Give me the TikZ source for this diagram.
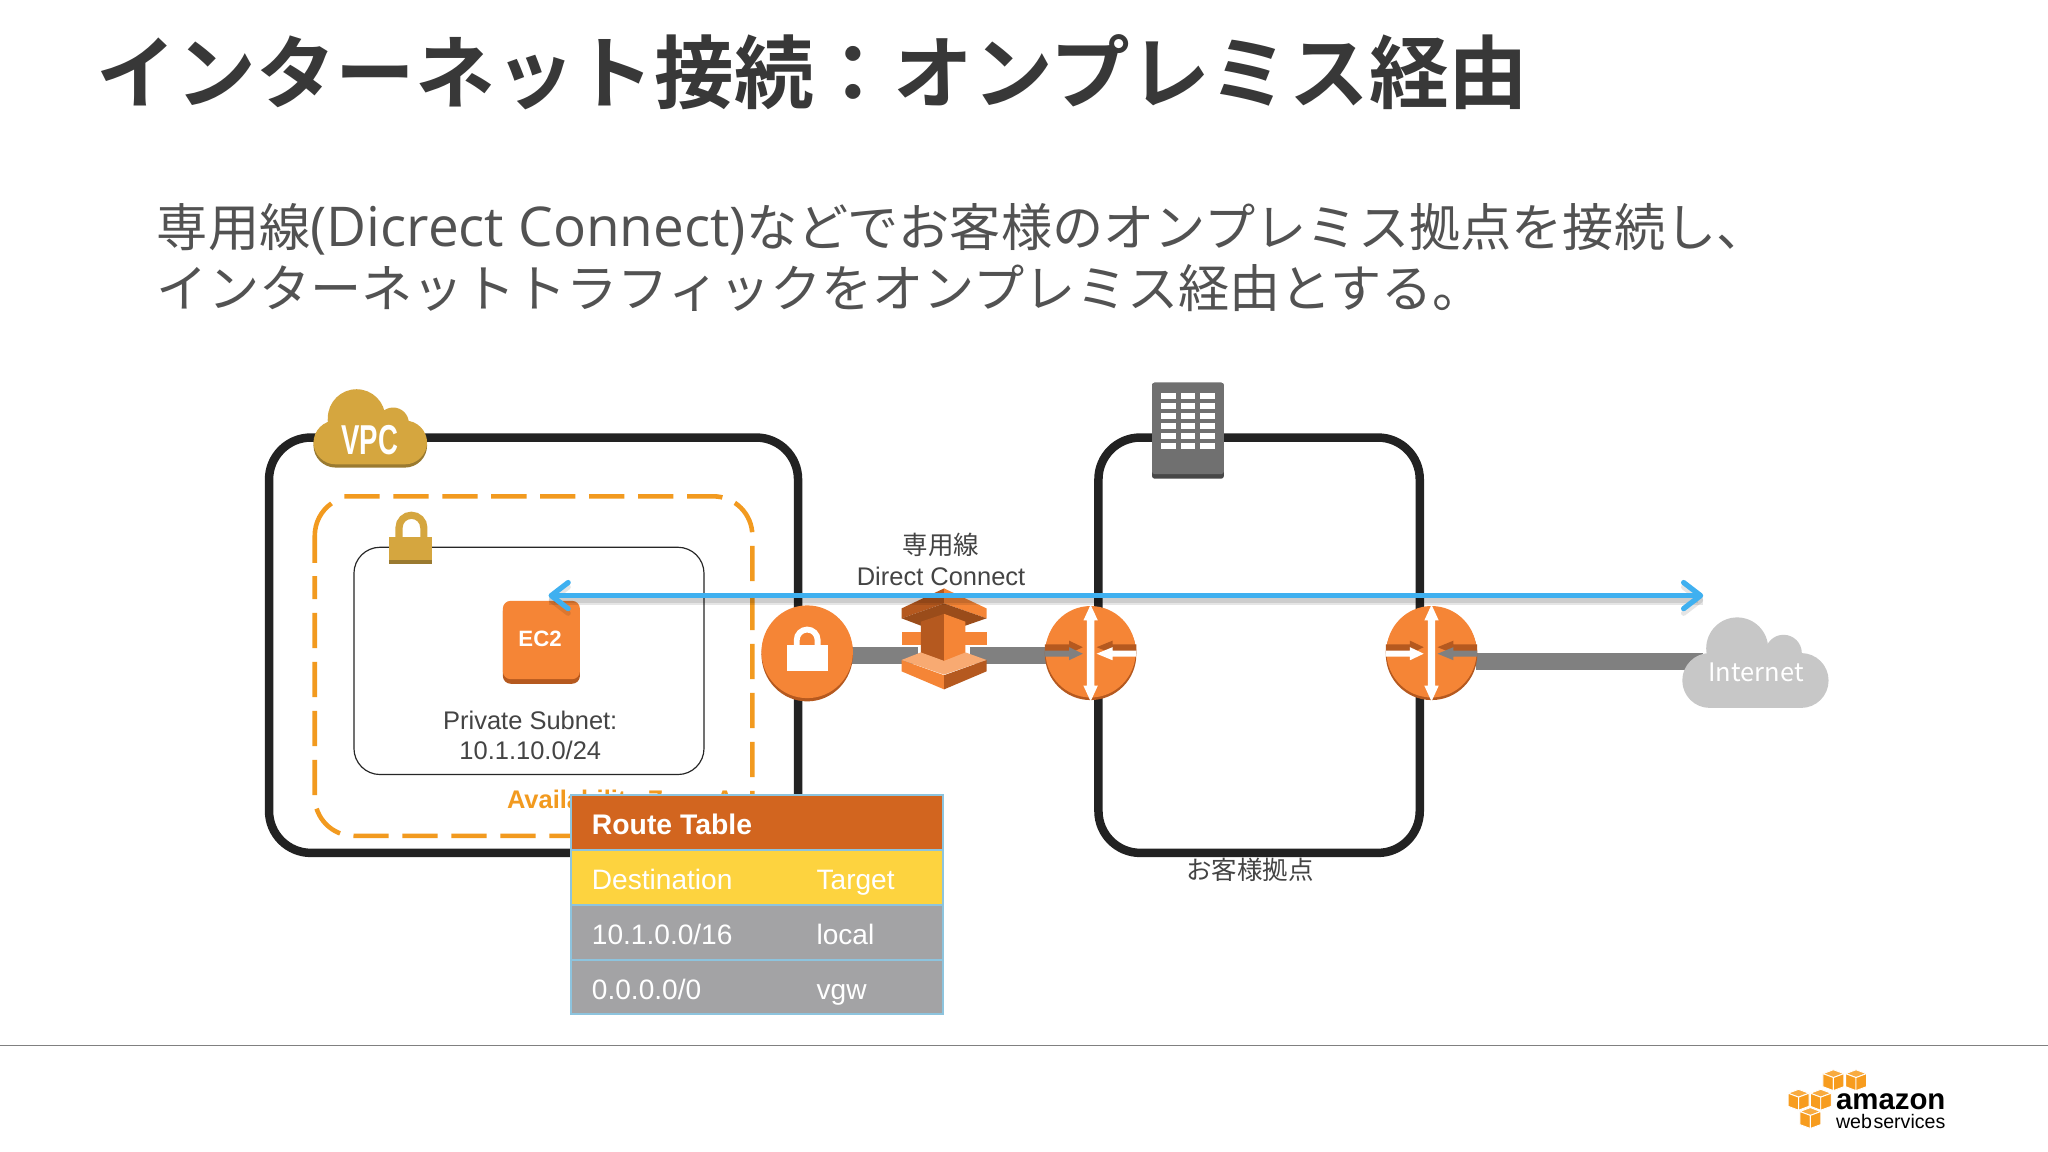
\documentclass[tikz,border=0pt]{standalone}
\usepackage{fontspec}
\setmainfont{Liberation Sans}
\newfontfamily\jp{Noto Sans CJK JP}[BoldFont={Noto Sans CJK JP Bold}]
\newfontfamily\lat{Open Sans}
\usetikzlibrary{arrows.meta,shapes.geometric}
\definecolor{awsorange}{HTML}{F58536}
\definecolor{awsdark}{HTML}{B5591F}
\definecolor{gold}{HTML}{D5A63F}
\definecolor{golddark}{HTML}{9A7A30}
\definecolor{zoneorange}{HTML}{F29A1F}
\definecolor{boxblack}{HTML}{222222}
\definecolor{txt}{HTML}{444444}
\definecolor{barGray}{HTML}{808080}
\definecolor{blueline}{HTML}{3FB0F0}
\definecolor{logoorange}{HTML}{F79C1E}
\definecolor{rtborder}{HTML}{8DC4DE}
\definecolor{rthead}{HTML}{D2651F}
\definecolor{rtyellow}{HTML}{FDD33F}
\definecolor{rtgray}{HTML}{A3A3A5}
\tikzset{
  box/.style={draw=boxblack,line width=6.5pt,rounded corners=32pt,minimum width=#1,minimum height=318pt,inner sep=0pt,outer sep=0pt},
  icon/.style={inner sep=0pt,outer sep=0pt,minimum height=20pt,minimum width=#1},
  bar/.style={draw=barGray,line width=13pt},
  tips/.style={{Straight Barb[length=13pt,width=20pt,line width=4pt,round]}-{Straight Barb[length=13pt,width=20pt,line width=4pt,round]}},
  flow/.style={draw=blueline,line width=4pt,tips},
  flowshadow/.style={draw=black,line width=#1,opacity=.10},
  label/.style={font=\fontsize{19.5}{23}\selectfont,text=txt,inner sep=0pt,align=center},
  jplabel/.style={font=\jp\fontsize{19.5}{23}\selectfont,text=txt,inner sep=0pt},
  row/.style={fill=#1,inner sep=0pt,outer sep=0pt,minimum width=285pt,minimum height=42pt},
  cell/.style={anchor=base west,inner sep=0pt,text=white,font=\fontsize{21.5}{26}\selectfont},
}
\newcommand\awsrouter[3]{%
\begin{scope}[shift={(#1,0)}]
  \fill[awsdark] (0,501) ellipse [x radius=35pt,y radius=35pt];
  \fill[awsorange] (0,499) ellipse [x radius=34.5pt,y radius=35pt];
  \fill[awsdark] (-35,493.3)--(-16.5,493.3)--(-16.5,490.5)--(-6,495.5)--(-16.5,500.5)--(-35,500.5)--cycle;
  \fill[awsdark] (35,493.3)--(16.8,493.3)--(16.8,490.5)--(4.6,495.5)--(16.8,500.5)--(35,500.5)--cycle;
  \fill[#2] (-35,498.2)--(-16.5,498.2)--(-16.5,495.5)--(-6,500.5)--(-16.5,505.5)--(-16.5,502.8)--(-35,502.8)--cycle;
  \fill[#3] (35,498.2)--(16.8,498.2)--(16.8,495.5)--(4.6,500.5)--(16.8,505.5)--(16.8,502.8)--(35,502.8)--cycle;
  \fill[white] (0,463)--(5.5,475)--(2.8,475)--(2.8,525)--(5.5,525)--(0,537)--(-5.5,525)--(-2.8,525)--(-2.8,475)--(-5.5,475)--cycle;
\end{scope}}
\newcommand\awscube[2]{%
\begin{scope}[shift={(#1,#2)},draw=white,line width=.7pt,line join=round]
  \filldraw[fill=logoorange!85!white] (0,-8)--(8,-5)--(0,-2)--(-8,-5)--cycle;
  \filldraw[fill=logoorange] (-8,-5)--(0,-2)--(0,8)--(-8,5)--cycle;
  \filldraw[fill=logoorange] (8,-5)--(0,-2)--(0,8)--(8,5)--cycle;
\end{scope}}
\begin{document}
\begin{tikzpicture}[x=1pt,y=-1pt]
\useasboundingbox (0,0) rectangle (1568,882);
\fill[white] (0,0) rectangle (1568,882);

% texts at top
\node[anchor=west,inner sep=0pt,text=black!78,font=\jp\bfseries\fontsize{61}{70}\selectfont] (title) at (74,55) {インターネット接続：オンプレミス経由};
\node[anchor=north west,inner sep=0pt,text=black!68,align=left,font=\jp\fontsize{39.2}{47}\selectfont] (body) at (120,155.5) {専用線{\lat\fontsize{42}{47}\selectfont(Dicrect Connect)}などでお客様のオンプレミス拠点を接続し、\\インターネットトラフィックをオンプレミス経由とする。};

\coordinate (footL) at (0,800.5);
\coordinate (footR) at (1568,800.5);
\draw[black!50,line width=.8pt] (footL) -- (footR);

% containers
\node[box=405pt] (vpc) at (408.5,494) {};
\node[box=246pt] (site) at (964,494) {};
\draw[zoneorange,line width=3.5pt,rounded corners=30pt,dash pattern=on 27pt off 10.5pt] (263.6,380) -- (576,380) -- (576,640) -- (241,640) -- (241,441);
\draw[zoneorange,line width=3.5pt] (241,431) -- (241,410) arc[start angle=180,end angle=125,radius=30pt];
\node[draw=black!85,line width=.9pt,rounded corners=20pt,minimum width=268pt,minimum height=174pt,inner sep=0pt] (subnet) at (405,506) {};
\node[anchor=base west,inner sep=0pt,text=zoneorange,font=\bfseries\fontsize{19.5}{23}\selectfont] (zone) at (388,619) {Availability Zone A};
\node[label] (subnetlabel) at (406,563) {Private Subnet:\\[0pt]10.1.10.0/24};

% VPC cloud
\fill[golddark] (273,323) circle [radius=22pt] (301,328) circle [radius=12pt];
\fill[golddark,rounded corners=17pt] (240,324) rectangle (327,358);
\fill[gold] (273,320) circle [radius=22pt] (301,324) circle [radius=12pt];
\fill[gold,rounded corners=17pt] (240,322) rectangle (327,355.5);
\node[inner sep=0pt,text=white,font=\bfseries\fontsize{32}{33}\selectfont] (vpclabel) at (283,337) {\scalebox{.66}[1]{VPC}};

% subnet lock
\draw[gold,line width=5.5pt] (305.5,412) -- (305.5,404) arc[start angle=180,end angle=0,radius=9.5pt] -- (324.5,412);
\fill[golddark] (298,412) rectangle (331,432);
\fill[gold] (298,411) rectangle (331,428.5);

% EC2
\fill[awsdark,rounded corners=6pt] (385,462) rectangle (444,523.5);
\fill[awsorange,rounded corners=6pt] (385,460) rectangle (444,520);
\node[inner sep=0pt,text=white,font=\bfseries\fontsize{17}{20}\selectfont] (ec2) at (413.5,489) {EC2};

% icon anchors
\node[icon=68pt] (vgw) at (618,501.5) {};
\node[icon=40pt] (dc) at (722.8,501.5) {};
\node[icon=68pt] (r1) at (835,501.5) {};
\node[icon=68pt] (r2) at (1096,506.5) {};
\node[icon=80pt] (inet) at (1344,506.5) {};
\draw[bar] (vgw) -- (dc);
\draw[bar] (dc) -- (r1);
\draw[bar] (r2) -- (inet);

% VGW
\fill[awsdark] (618,501) ellipse [x radius=35pt,y radius=36pt];
\fill[awsorange] (618,499) ellipse [x radius=35pt,y radius=35.5pt];
\draw[white,line width=4.5pt] (610,496) -- (610,490) arc[start angle=180,end angle=0,radius=8pt] -- (626,496);
\fill[white] (602.5,494) rectangle (634,514);

% Direct Connect icon
\fill[awsdark] (722.8,450.5)--(690.3,465.8)--(690.3,473.4)--(722.8,462)--cycle;
\fill[awsorange] (722.8,450.5)--(755.3,465.8)--(755.3,473.4)--(722.8,462)--cycle;
\fill[awsdark!85!black] (690.3,473.4)--(722.8,462)--(755.3,473.4)--(739.2,479)--(722.8,473)--(705,479)--cycle;
\fill[awsorange] (690.3,483.6) rectangle (705,493.8);
\fill[awsorange] (739.2,483.6) rectangle (755.3,493.8);
\fill[awsdark] (705,476) -- (722.8,470) -- (722.8,507) -- (705,503) -- cycle;
\fill[awsorange] (739.2,476) -- (722.8,470) -- (722.8,507) -- (739.2,503) -- cycle;
\fill[awsorange] (690.3,505.3)--(722.8,517)--(722.8,527.8)--(690.3,514)--cycle;
\fill[awsdark] (755.3,505.3)--(722.8,517)--(722.8,527.8)--(755.3,514)--cycle;
\fill[awsorange!70!white] (690.3,505.3)--(705,499.5)--(722.8,506)--(739.2,499.5)--(755.3,505.3)--(722.8,516.5)--cycle;

\awsrouter{835}{barGray}{white}
\awsrouter{1096}{white}{barGray}

% Internet cloud
\fill[black!22] (1330,496.4) circle [radius=23.7pt] (1365.5,500) circle [radius=14pt];
\fill[black!22,rounded corners=21pt] (1288,500) rectangle (1400,542);
\node[inner sep=0pt,text=white,font=\jp\fontsize{19.5}{22}\selectfont] (inetlabel) at (1344.5,515) {Internet};

% building
\fill[black!72,rounded corners=2pt] (882,293) rectangle (937,366.5);
\fill[black!56,rounded corners=2pt] (882,293) rectangle (937,363);
\foreach \wx in {889,904,919}
  \foreach \wy in {301,308.7,316.3,324,331.6,339.3}
    \fill[white] (\wx,\wy) rectangle (\wx+11,\wy+4.7);

\node[jplabel] (dclabel1) at (720.5,417) {専用線};
\node[label] (dclabel2) at (720.5,441) {Direct Connect};
\node[jplabel] (sitelabel) at (957,666) {お客様拠点};

% flow
\coordinate (fa) at (420,456);
\coordinate (fb) at (1304,456);
\coordinate (fas) at (420,459.5);
\coordinate (fbs) at (1304,459.5);
\draw[flowshadow=7pt] (fas) -- (fbs);
\draw[flowshadow=4pt,tips] (fas) -- (fbs);
\draw[flow] (fa) -- (fb);

% route table
\node[row=rthead] (rt0) at (579.5,630) {};
\node[row=rtyellow] (rt1) at (579.5,672) {};
\node[row=rtgray] (rt2) at (579.5,714) {};
\node[row=rtgray] (rt3) at (579.5,755.5) {};
\draw[rtborder,line width=1.5pt] (437,609) rectangle (722,776);
\draw[rtborder,line width=1.3pt] (437,651) -- (722,651) (437,693) -- (722,693) (437,735) -- (722,735);
\node[cell,font=\bfseries\fontsize{21.7}{26}\selectfont] (t0) at (453,639) {Route Table};
\node[cell] (t1a) at (453,681) {Destination};
\node[cell] (t1b) at (625,681) {Target};
\node[cell] (t2a) at (453,723) {10.1.0.0/16};
\node[cell] (t2b) at (625,723) {local};
\node[cell] (t3a) at (453,765) {0.0.0.0/0};
\node[cell] (t3b) at (625,765) {vgw};

% logo
\awscube{1403.7}{827}
\awscube{1421}{827}
\awscube{1377}{842}
\awscube{1394}{842}
\awscube{1386}{856}
\node[anchor=west,inner sep=0pt,text=black,font=\bfseries\fontsize{22.5}{24}\selectfont] (logo1) at (1405.5,843.5) {amazon};
\node[anchor=west,inner sep=0pt,text=black,font=\fontsize{15}{16}\selectfont] (logo2) at (1405.5,859) {{\spaceskip=1.2pt web services}};
\end{tikzpicture}
\end{document}
